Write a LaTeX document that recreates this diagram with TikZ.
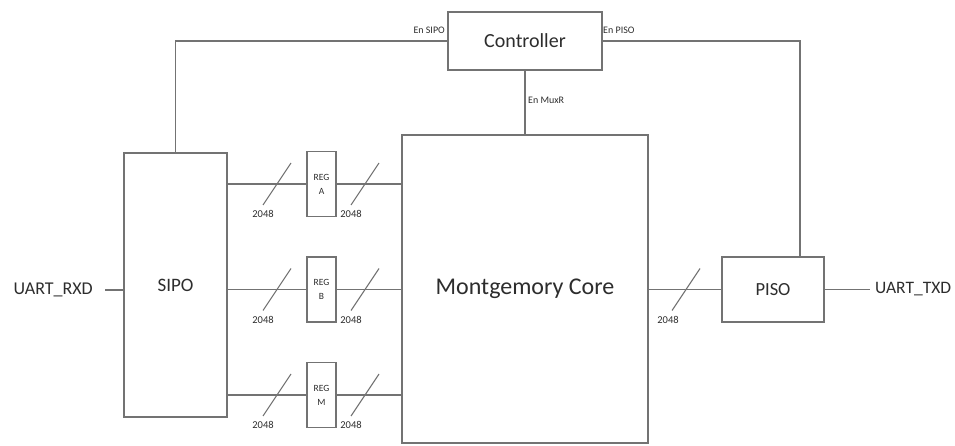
\documentclass[tikz,border=0pt]{standalone}
\usepackage{fontspec}
\setmainfont{Carlito}
\usetikzlibrary{calc}
\definecolor{lnc}{RGB}{115,115,115}
\definecolor{txc}{RGB}{45,45,45}
\tikzset{
  blk/.style={draw=lnc, line width=1.3pt, fill=white, inner sep=0pt, outer sep=0pt, text=txc},
  wire/.style={draw=lnc, line width=1.3pt},
  buswidth/.style={draw=lnc, line width=1.1pt},
  small/.style={text=txc, font=\fontsize{10}{11}\selectfont, inner sep=1pt},
  buslbl/.style={text=txc, font=\fontsize{10.5}{11}\selectfont, inner sep=0pt},
  reglbl/.style={text=txc, font=\fontsize{9.5}{14}\selectfont, align=center},
}
\begin{document}
\begin{tikzpicture}[x=1pt, y=-1pt]
\useasboundingbox (0,0) rectangle (955,446);
% blocks
\node[blk, minimum width=154pt, minimum height=58pt, font=\fontsize{20}{22}\selectfont] (ctrl) at (525,41) {Controller};
\node[blk, minimum width=246pt, minimum height=308pt, font=\fontsize{24}{26}\selectfont] (core) at (525,289) {Montgemory Core};
\node[blk, minimum width=103pt, minimum height=264pt, font=\fontsize{19}{21}\selectfont] (sipo) at (175.5,285) {SIPO};
\node[blk, minimum width=102pt, minimum height=65pt, font=\fontsize{18.5}{20}\selectfont] (piso) at (773,289.5) {PISO};
\node[blk, minimum width=29pt, minimum height=65pt, reglbl] (rega) at (321.5,184) {REG\\A};
\node[blk, minimum width=29pt, minimum height=65pt, reglbl] (regb) at (321.5,289.5) {REG\\B};
\node[blk, minimum width=29pt, minimum height=65pt, reglbl] (regm) at (321.5,395) {REG\\M};
% external signals
\node[text=txc, font=\fontsize{18}{20}\selectfont, anchor=east, inner xsep=12pt, inner ysep=0pt] (rxd) at (105,290) {UART\_RXD};
\node[text=txc, font=\fontsize{17.5}{20}\selectfont, anchor=west, inner xsep=5pt, inner ysep=0pt] (txd) at (870,289.5) {UART\_TXD};
\draw[wire] (rxd.east) -- (sipo.west |- rxd.east);
\draw[wire] (piso.east) -- (txd.west);
% controller connections
\draw[wire] (sipo.north) |- (ctrl.west);
\draw[wire] (ctrl.east) -| ([xshift=27pt]piso.north);
\draw[wire] (ctrl.south) -- (core.north);
\node[small, anchor=east] (ensipo) at (446,30) {En SIPO};
\node[small, anchor=west] (enpiso) at (602,30) {En PISO};
\node[small, anchor=west] (enmux) at (527,100) {En MuxR};
% data paths
\foreach \r in {rega,regb,regm}{
  \draw[wire] (sipo.east |- \r.west) -- (\r.west);
  \draw[wire] (\r.east) -- (core.west |- \r.east);
}
\draw[wire] (core.east |- piso.west) -- (piso.west);
% bus width marks
\coordinate (sa1) at (277,184);
\coordinate (sa2) at (365,184);
\coordinate (sb1) at (277,289.5);
\coordinate (sb2) at (365,289.5);
\coordinate (sm1) at (277,395);
\coordinate (sm2) at (365,395);
\coordinate (sp) at (686,289.5);
\foreach \s in {sa1,sa2,sb1,sb2,sm1,sm2,sp}{
  \draw[buswidth] ($(\s)+(-14,21)$) -- ($(\s)+(14,-21)$);
}
\foreach \s in {sa1,sa2,sb1,sb2,sm1,sm2}{
  \node[buslbl] at ($(\s)+(-14,30)$) {2048};
}
\node[buslbl] (pl) at ($(sp)+(-18,30)$) {2048};
\end{tikzpicture}
\end{document}
